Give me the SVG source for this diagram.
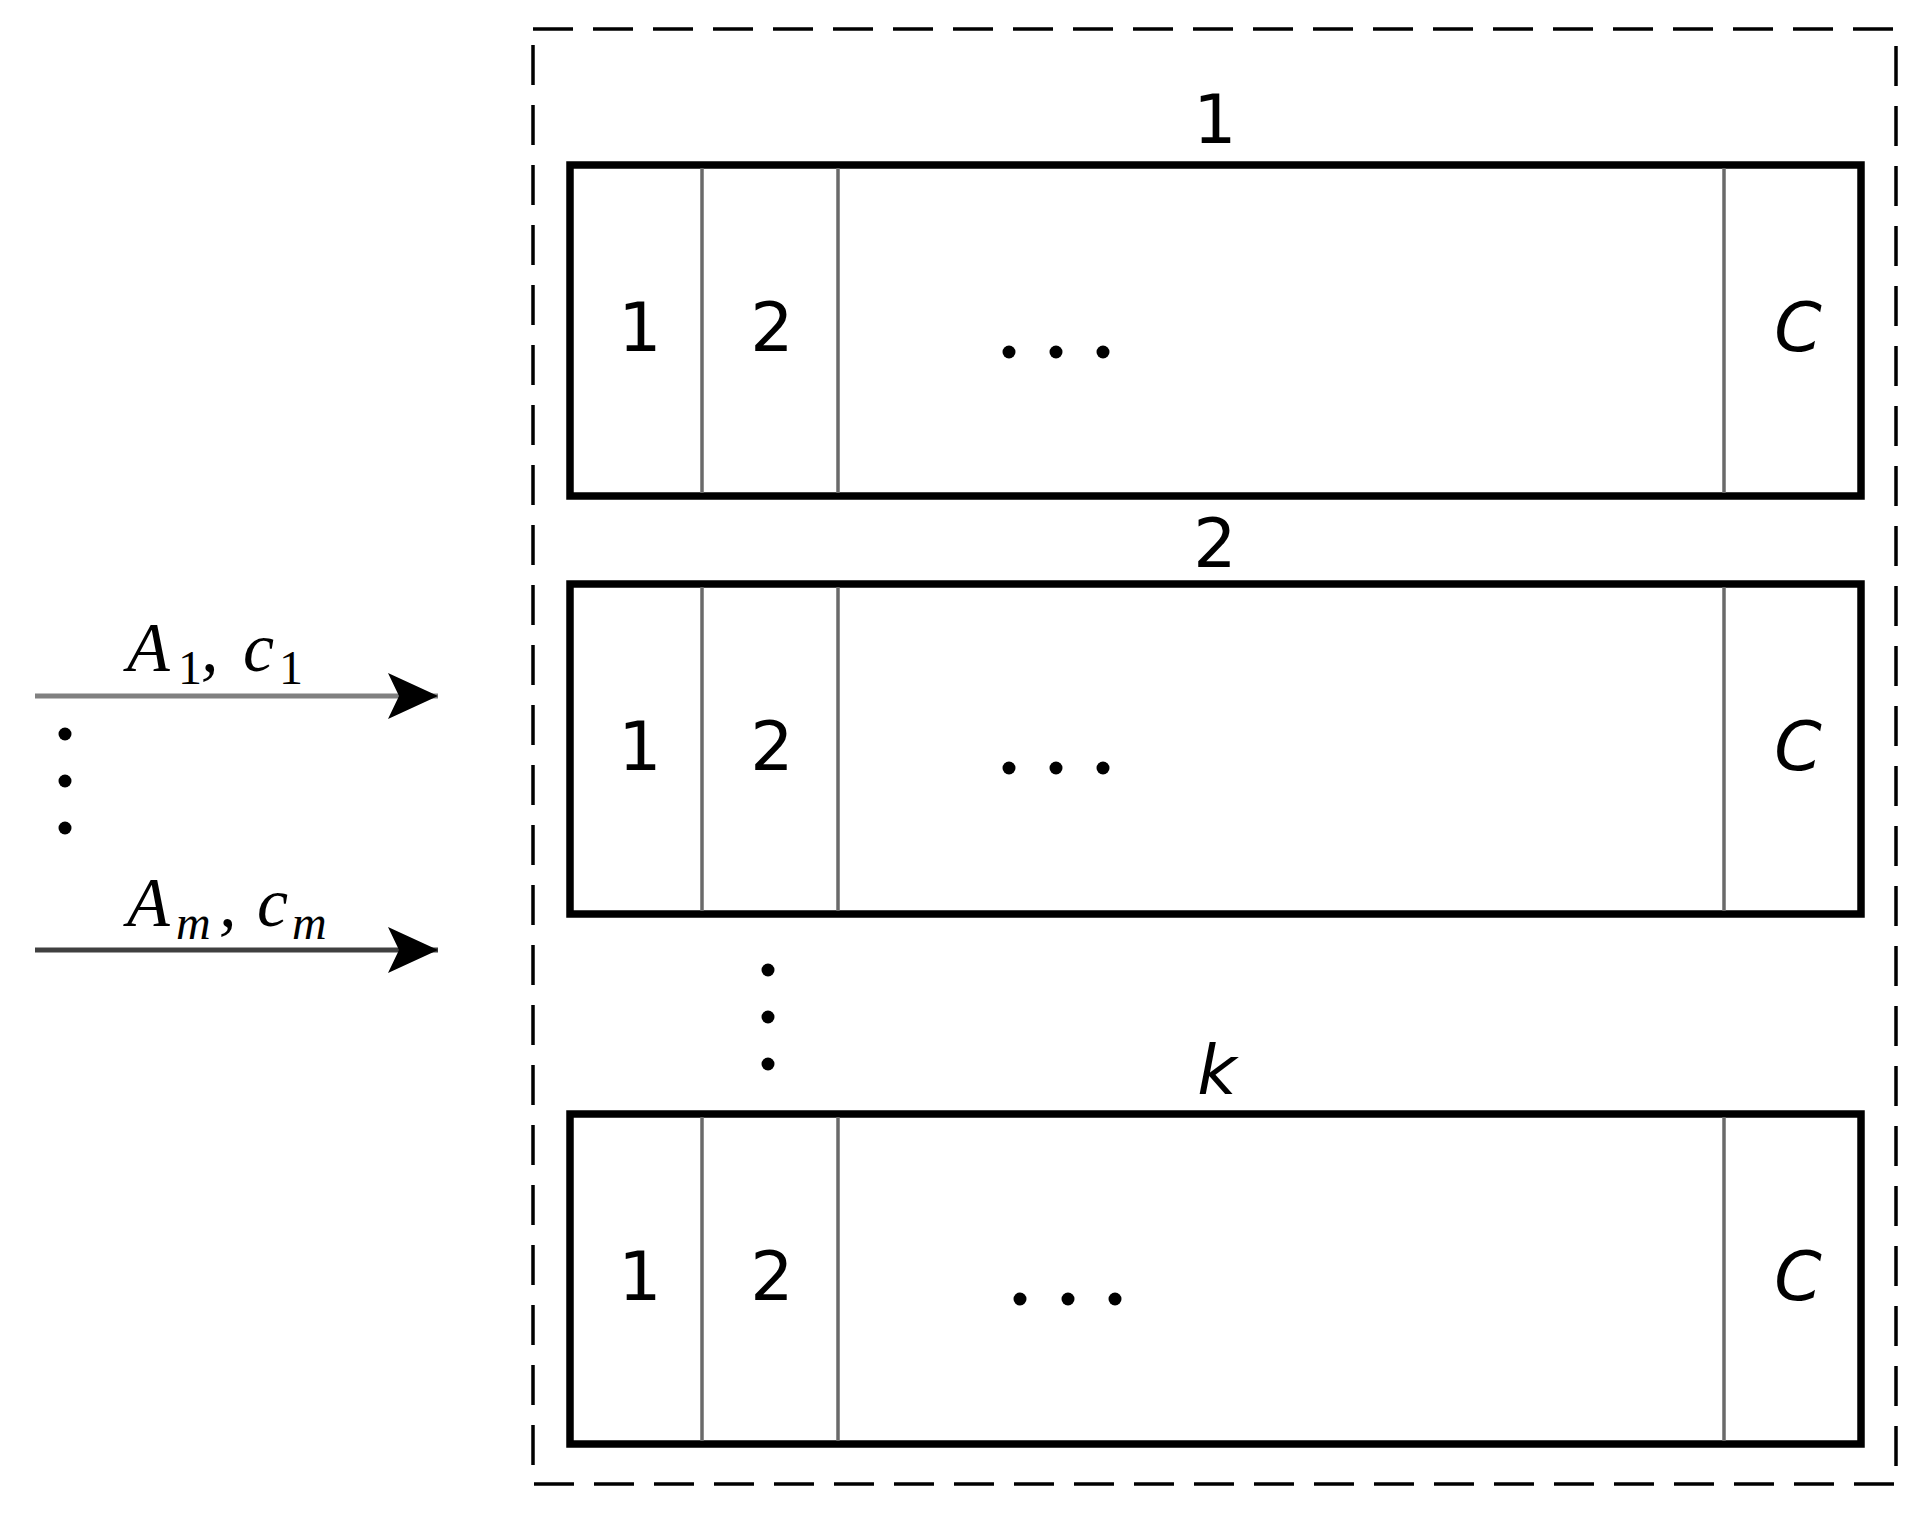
<svg xmlns="http://www.w3.org/2000/svg" width="1924" height="1513" viewBox="0 0 1924 1513">
<style>
.frame{fill:none;stroke:#000;stroke-width:3.5;stroke-dasharray:40 20}
.row{fill:#fff;stroke:#000;stroke-width:7.5}
.div{stroke:#6a6a6a;stroke-width:3.5}
.t{font-family:"DejaVu Sans","Liberation Sans",sans-serif;font-size:68px;fill:#000;text-anchor:middle}
.it{font-style:italic}
.m{font-family:"Liberation Serif","DejaVu Serif",serif;font-style:italic;fill:#000}
.big{font-size:70px}
.sub{font-size:48px}
.up{font-style:normal}
.dot{fill:#000}
.conn{fill:none;stroke-width:5}
</style>
<defs>
<marker id="ah" markerUnits="userSpaceOnUse" markerWidth="52" markerHeight="48" refX="50" refY="24" orient="auto">
<path d="M0,1 L50,24 L0,47 L11,24 Z" fill="#000"/>
</marker>
</defs>
<rect width="1924" height="1513" fill="#fff"/>

<g id="container">
<rect class="frame" x="533" y="29" width="1363" height="1455"/>
</g>

<g id="row1">
<rect class="row" x="570" y="165" width="1291" height="331"/>
<line class="div" x1="702" y1="168" x2="702" y2="493"/>
<line class="div" x1="838" y1="168" x2="838" y2="493"/>
<line class="div" x1="1724" y1="168" x2="1724" y2="493"/>
<text class="t" x="1215" y="143">1</text>
<text class="t" x="640" y="351">1</text>
<text class="t" x="772" y="351">2</text>
<text class="t it" x="1798" y="351">C</text>
<circle class="dot" cx="1009" cy="352" r="6.5"/>
<circle class="dot" cx="1056" cy="352" r="6.5"/>
<circle class="dot" cx="1103" cy="352" r="6.5"/>
</g>

<g id="row2">
<rect class="row" x="570" y="584" width="1291" height="330"/>
<line class="div" x1="702" y1="587" x2="702" y2="911"/>
<line class="div" x1="838" y1="587" x2="838" y2="911"/>
<line class="div" x1="1724" y1="587" x2="1724" y2="911"/>
<text class="t" x="1215" y="567">2</text>
<text class="t" x="640" y="770">1</text>
<text class="t" x="772" y="770">2</text>
<text class="t it" x="1798" y="770">C</text>
<circle class="dot" cx="1009" cy="768" r="6.5"/>
<circle class="dot" cx="1056" cy="768" r="6.5"/>
<circle class="dot" cx="1103" cy="768" r="6.5"/>
</g>

<g id="rowdots">
<circle class="dot" cx="768" cy="970" r="6.5"/>
<circle class="dot" cx="768" cy="1017" r="6.5"/>
<circle class="dot" cx="768" cy="1064" r="6.5"/>
</g>

<g id="rowk">
<rect class="row" x="570" y="1114" width="1291" height="330"/>
<line class="div" x1="702" y1="1117" x2="702" y2="1441"/>
<line class="div" x1="838" y1="1117" x2="838" y2="1441"/>
<line class="div" x1="1724" y1="1117" x2="1724" y2="1441"/>
<text class="t it" x="1217" y="1094">k</text>
<text class="t" x="640" y="1300">1</text>
<text class="t" x="772" y="1300">2</text>
<text class="t it" x="1798" y="1300">C</text>
<circle class="dot" cx="1020" cy="1299" r="6.5"/>
<circle class="dot" cx="1068" cy="1299" r="6.5"/>
<circle class="dot" cx="1115" cy="1299" r="6.5"/>
</g>

<g id="connectors">
<line class="conn" x1="35" y1="696" x2="438" y2="696" stroke="#808080" marker-end="url(#ah)"/>
<line class="conn" x1="35" y1="950" x2="438" y2="950" stroke="#404040" marker-end="url(#ah)"/>
</g>

<g id="input-labels">
<text class="m"><tspan class="big" x="127" y="671">A</tspan><tspan class="sub up" x="178" y="684">1</tspan><tspan class="big" x="201" y="671">,</tspan><tspan class="big" x="243" y="671">c</tspan><tspan class="sub up" x="279" y="684">1</tspan></text>
<text class="m"><tspan class="big" x="127" y="926">A</tspan><tspan class="sub" x="176" y="939">m</tspan><tspan class="big" x="219" y="926">,</tspan><tspan class="big" x="257" y="926">c</tspan><tspan class="sub" x="292" y="939">m</tspan></text>
<circle class="dot" cx="65" cy="734" r="6.5"/>
<circle class="dot" cx="65" cy="781" r="6.5"/>
<circle class="dot" cx="65" cy="828" r="6.5"/>
</g>
</svg>
